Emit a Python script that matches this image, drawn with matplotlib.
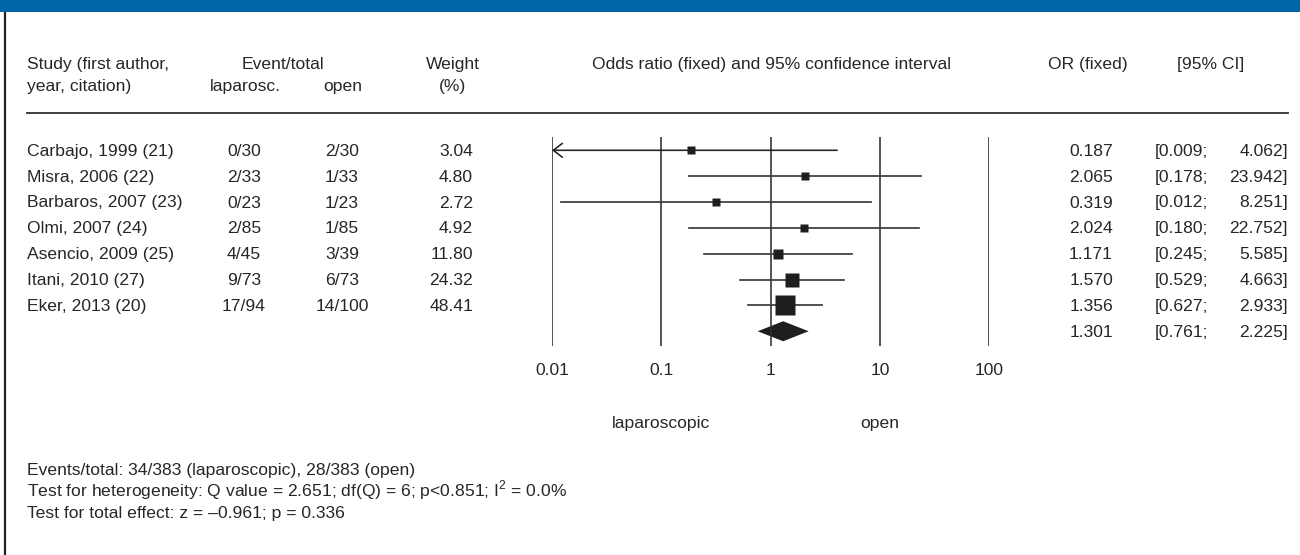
"""Forest plot: laparoscopic vs open repair, odds ratios (fixed effect)"""

import numpy as np
import matplotlib
matplotlib.use("Agg")
import matplotlib.pyplot as plt

# section: data
studies = [
    "Carbajo, 1999 (21)",
    "Misra, 2006 (22)",
    "Barbaros, 2007 (23)",
    "Olmi, 2007 (24)",
    "Asencio, 2009 (25)",
    "Itani, 2010 (27)",
    "Eker, 2013 (20)",
]
events_lap = ["0/30", "2/33", "0/23", "2/85", "4/45", "9/73", "17/94"]
events_open = ["2/30", "1/33", "1/23", "1/85", "3/39", "6/73", "14/100"]
weights = [3.04, 4.80, 2.72, 4.92, 11.80, 24.32, 48.41]
odds_ratio = [0.187, 2.065, 0.319, 2.024, 1.171, 1.570, 1.356]
ci_low = [0.009, 0.178, 0.012, 0.180, 0.245, 0.529, 0.627]
ci_high = [4.062, 23.942, 8.251, 22.752, 5.585, 4.663, 2.933]
pooled_or = 1.301
pooled_low = 0.761
pooled_high = 2.225
axis_ticks = [0.01, 0.1, 1, 10, 100]
axis_labels = ["0.01", "0.1", "1", "10", "100"]
footer = [
    "Events/total: 34/383 (laparoscopic), 28/383 (open)",
    "Test for heterogeneity: Q value = 2.651; df(Q) = 6; p<0.851; "
    r"I$^{\mathrm{2}}$ = 0.0%",
    "Test for total effect: z = \u20130.961; p = 0.336",
]

plt.rcParams["font.family"] = ["Liberation Sans", "DejaVu Sans"]
plt.rcParams["mathtext.fontset"] = "custom"
plt.rcParams["mathtext.rm"] = "Liberation Sans"
FS = 12.6
TXT = "#262626"
LINE = "#2e2e2e"


def main():
    W, H = 1300, 555
    fig = plt.figure(figsize=(W / 100, H / 100), dpi=100)

    # section: background axes in pixel units
    bg = fig.add_axes((0, 0, 1, 1))
    bg.set_xlim(0, W)
    bg.set_ylim(H, 0)
    bg.axis("off")

    bg.axhspan(0, 12, color="#0066a8", lw=0)
    bg.text(27, 3, "FIGURE 3", color="white", fontsize=13, fontweight="bold",
            va="bottom", ha="left")
    bg.plot([5, 5], [12, H], color="#222222", lw=1.6, solid_capstyle="butt")

    # header
    hb1, hb2 = 69, 91
    bg.text(27, hb1, "Study (first author,", fontsize=FS, color=TXT, va="baseline")
    bg.text(27, hb2, "year, citation)", fontsize=FS, color=TXT, va="baseline")
    bg.text(283, hb1, "Event/total", fontsize=FS, color=TXT, va="baseline", ha="center")
    bg.text(245, hb2, "laparosc.", fontsize=FS, color=TXT, va="baseline", ha="center")
    bg.text(343, hb2, "open", fontsize=FS, color=TXT, va="baseline", ha="center")
    bg.text(453, hb1, "Weight", fontsize=FS, color=TXT, va="baseline", ha="center")
    bg.text(453, hb2, "(%)", fontsize=FS, color=TXT, va="baseline", ha="center")
    bg.text(771, hb1, "Odds ratio (fixed) and 95% confidence interval", fontsize=FS,
            color=TXT, va="baseline", ha="center")
    bg.text(1088, hb1, "OR (fixed)", fontsize=FS, color=TXT, va="baseline", ha="center")
    bg.text(1211, hb1, "[95% CI]", fontsize=FS, color=TXT, va="baseline", ha="center")
    bg.plot([27, 1288], [113, 113], color=LINE, lw=1.3)

    # section: rows
    y0, dy = 150.3, 25.85
    rows = y0 + dy * np.arange(len(studies) + 1)
    off = 5.5
    for i, name in enumerate(studies):
        yb = rows[i] + off
        bg.text(27, yb, name, fontsize=FS, color=TXT, va="baseline")
        bg.text(244, yb, events_lap[i], fontsize=FS, color=TXT, va="baseline", ha="center")
        bg.text(342, yb, events_open[i], fontsize=FS, color=TXT, va="baseline", ha="center")
        bg.text(473, yb, f"{weights[i]:.2f}", fontsize=FS, color=TXT, va="baseline", ha="right")
    all_or = odds_ratio + [pooled_or]
    all_lo = ci_low + [pooled_low]
    all_hi = ci_high + [pooled_high]
    for i in range(len(all_or)):
        yb = rows[i] + off
        bg.text(1113, yb, f"{all_or[i]:.3f}", fontsize=FS, color=TXT, va="baseline", ha="right")
        bg.text(1155, yb, f"[{all_lo[i]:.3f};", fontsize=FS, color=TXT, va="baseline", ha="left")
        bg.text(1288, yb, f"{all_hi[i]:.3f}]", fontsize=FS, color=TXT, va="baseline", ha="right")

    # section: forest axes (log scale)
    x_lo, x_hi = 552, 989.3
    ax = fig.add_axes((x_lo / W, 0, (x_hi - x_lo) / W, 1))
    ax.set_xscale("log")
    ax.set_xlim(axis_ticks[0], axis_ticks[-1])
    ax.set_ylim(H, 0)
    ax.axis("off")
    ax.patch.set_alpha(0)

    ax.vlines(axis_ticks, 137, 346, color=LINE, lw=1.15)
    for t, lab in zip(axis_ticks, axis_labels):
        ax.text(t, 375, lab, fontsize=FS, color=TXT, ha="center", va="baseline")
    ax.text(0.1, 428, "laparoscopic", fontsize=FS, color=TXT, ha="center", va="baseline")
    ax.text(10, 428, "open", fontsize=FS, color=TXT, ha="center", va="baseline")

    for i in range(len(studies)):
        y = rows[i]
        if ci_low[i] < axis_ticks[0]:
            ax.annotate("", xy=(axis_ticks[0], y), xytext=(ci_high[i], y),
                        arrowprops=dict(arrowstyle="->,head_length=0.65,head_width=0.5",
                                        lw=1.15, color="#222222", shrinkA=0, shrinkB=0))
        else:
            ax.plot([ci_low[i], ci_high[i]], [y, y], color="#3a3a3a", lw=1.25)
        size_px = max(3.0 * np.sqrt(weights[i]), 7.5)
        ax.plot(odds_ratio[i], y, marker="s", ms=size_px * 0.72, color="#1e1e1e",
                mec="none", ls="none")

    yd = rows[len(studies)]
    ax.fill([pooled_low, pooled_or, pooled_high, pooled_or],
            [yd, yd - 10, yd, yd + 10], color="#1e1e1e", lw=0)

    # section: footer
    for k, line in enumerate(footer):
        bg.text(27, 475 + 21.5 * k, line, fontsize=FS, color=TXT, va="baseline")

    fig.savefig("out.png", dpi=100)
    plt.close(fig)


if __name__ == "__main__":
    main()
